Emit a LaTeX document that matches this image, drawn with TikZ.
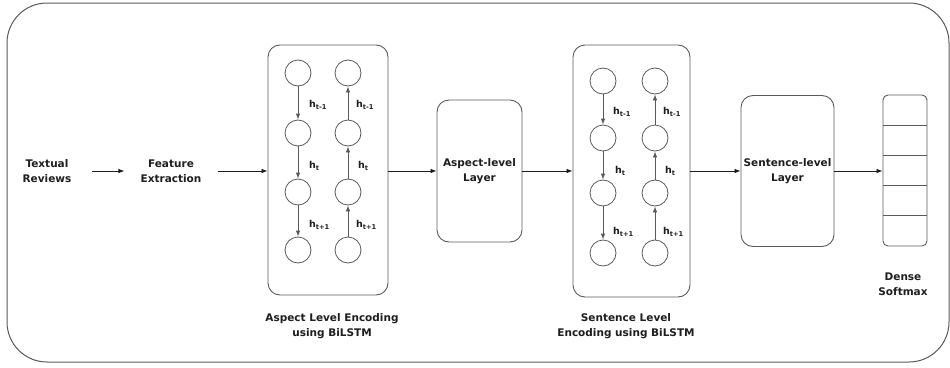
\documentclass[tikz,border=0pt]{standalone}
\usepackage{fontspec}
\setmainfont{DejaVu Sans}
\usetikzlibrary{arrows.meta}
\definecolor{ln}{HTML}{5A5A5A}
\definecolor{tx}{HTML}{1E1E1E}
\begin{document}
\begin{tikzpicture}[x=1pt,y=-1pt,
  lbl/.style={font=\bfseries\fontsize{10.5}{15}\selectfont, text=tx, align=center, inner sep=0pt},
  hl/.style={font=\bfseries\fontsize{9.5}{10}\selectfont, text=tx, anchor=west, inner sep=0pt},
  cell/.style={circle, draw=ln, line width=0.8pt, minimum size=26pt, inner sep=0pt},
  rbox/.style={draw=ln, line width=0.9pt, rounded corners=12pt, inner sep=0pt,
    font=\bfseries\fontsize{10.5}{15}\selectfont, text=tx, align=center},
  arr/.style={draw=tx, line width=0.7pt, -{Latex[length=6pt,width=4.5pt]}},
  harr/.style={draw=ln, line width=0.8pt, -{Latex[length=6pt,width=4.5pt]}},
]
\useasboundingbox (0,0) rectangle (950,367);

% outer frame
\node[draw=ln, line width=1pt, rounded corners=40pt, minimum width=942pt, minimum height=359pt, inner sep=0pt] (frame) at (478,182.5) {};

% inputs
\node[lbl] (tr) at (47,171) {Textual\\Reviews};
\node[lbl] (fe) at (171,171) {Feature\\Extraction};

% aspect BiLSTM box
\node[rbox, minimum width=120pt, minimum height=250pt] (abox) at (328,170) {};
\foreach \i/\y in {1/73,2/133,3/192,4/250}{
  \node[cell] (a\i) at (298,\y) {};
  \node[cell] (b\i) at (348,\y) {};
}
\draw[harr] (a1) -- (a2);
\draw[harr] (a2) -- (a3);
\draw[harr] (a3) -- (a4);
\draw[harr] (b2) -- (b1);
\draw[harr] (b3) -- (b2);
\draw[harr] (b4) -- (b3);
\node[hl] (al1) at (309,105) {h\textsubscript{t-1}};
\node[hl] (al2) at (309,166) {h\textsubscript{t}};
\node[hl] (al3) at (309,225) {h\textsubscript{t+1}};
\node[hl] (bl1) at (356,105) {h\textsubscript{t-1}};
\node[hl] (bl2) at (358,166) {h\textsubscript{t}};
\node[hl] (bl3) at (356,225) {h\textsubscript{t+1}};
\node[lbl] (acap) at (332,326) {Aspect Level Encoding\\using BiLSTM};

% aspect-level layer
\node[rbox, minimum width=85pt, minimum height=142pt] (alayer) at (479.5,171) {Aspect-level\\Layer};

% sentence BiLSTM box
\node[rbox, minimum width=117pt, minimum height=252pt] (sbox) at (631.5,171) {};
\foreach \i/\y in {1/81,2/138,3/193,4/253}{
  \node[cell] (c\i) at (603,\y) {};
  \node[cell] (d\i) at (655,\y) {};
}
\draw[harr] (c1) -- (c2);
\draw[harr] (c2) -- (c3);
\draw[harr] (c3) -- (c4);
\draw[harr] (d2) -- (d1);
\draw[harr] (d3) -- (d2);
\draw[harr] (d4) -- (d3);
\node[hl] (cl1) at (613,112) {h\textsubscript{t-1}};
\node[hl] (cl2) at (615,171) {h\textsubscript{t}};
\node[hl] (cl3) at (613,232) {h\textsubscript{t+1}};
\node[hl] (dl1) at (663,112) {h\textsubscript{t-1}};
\node[hl] (dl2) at (665,171) {h\textsubscript{t}};
\node[hl] (dl3) at (663,232) {h\textsubscript{t+1}};
\node[lbl] (scap) at (626,326) {Sentence Level\\Encoding using BiLSTM};

% sentence-level layer
\node[rbox, minimum width=93pt, minimum height=151pt] (slayer) at (787.5,171) {Sentence-level\\Layer};

% dense softmax
\node[draw=ln, line width=0.9pt, rounded corners=5pt, minimum width=44pt, minimum height=151pt, inner sep=0pt] (dense) at (905,170.5) {};
\foreach \y in {125.2,155.4,185.6,215.8}{
  \draw[ln, line width=0.9pt] (883,\y) -- (927,\y);
}
\node[lbl] (dcap) at (903,284) {Dense\\Softmax};

% connectors
\draw[arr, shorten <=20pt, shorten >=16pt] (tr) -- (fe);
\draw[arr, shorten <=16pt] (fe.east) -- (abox.west |- fe.east);
\draw[arr] (abox.east |- alayer.west) -- (alayer.west);
\draw[arr] (alayer.east) -- (sbox.west |- alayer.east);
\draw[arr] (sbox.east |- slayer.west) -- (slayer.west);
\draw[arr] (slayer.east) -- (dense.west |- slayer.east);
\end{tikzpicture}
\end{document}
